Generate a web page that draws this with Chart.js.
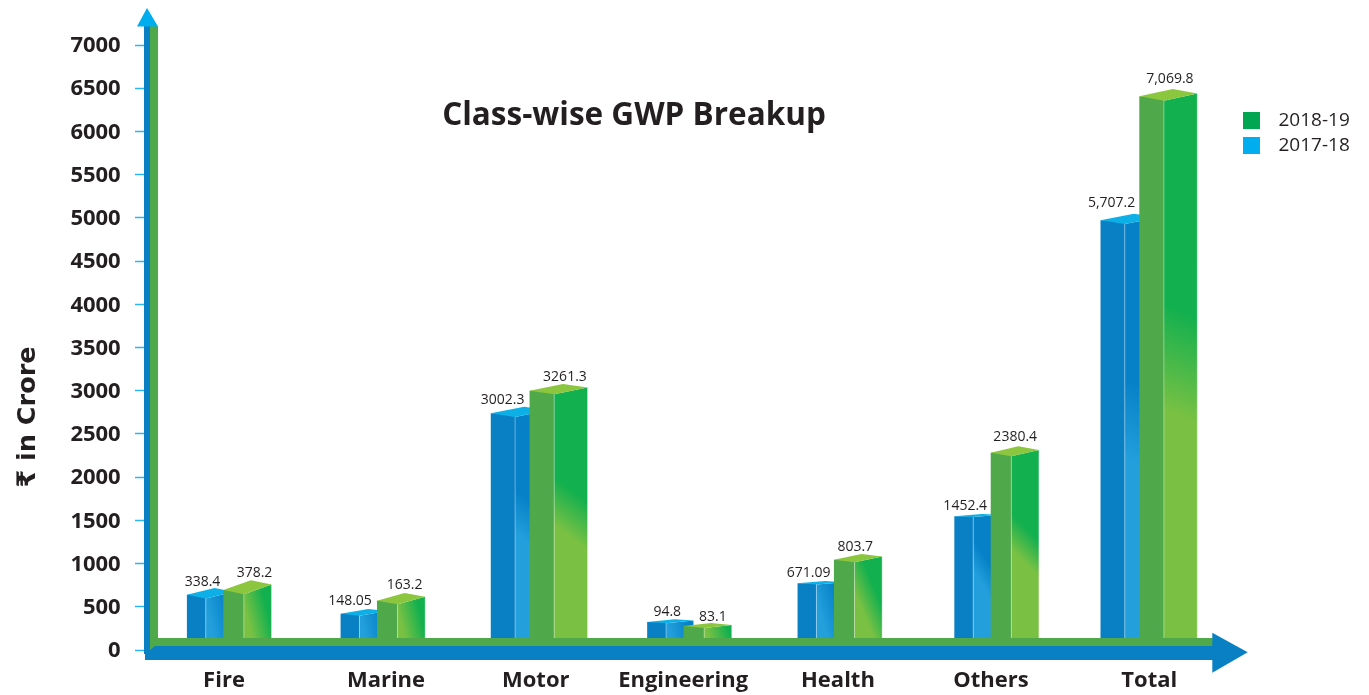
<!DOCTYPE html>
<html>
<head>
<meta charset="utf-8">
<title>Class-wise GWP Breakup</title>
<style>html,body{margin:0;padding:0;background:#fff}canvas{display:block}</style>
<script src="https://cdn.jsdelivr.net/npm/chart.js@4/dist/chart.umd.js"></script>
</head>
<body>
<canvas id="c" width="1369" height="695"></canvas>
<script>
// ---- data ----
const categories = ['Fire', 'Marine', 'Motor', 'Engineering', 'Health', 'Others', 'Total'];
const seriesNames = ['2018-19', '2017-18'];
// heights of the bars as drawn against the printed axis
const heights2018 = [694, 570, 3000, 278, 1045, 2283, 6406];
const heights2017 = [640, 420, 2739, 324, 772, 1547, 4972];
// figures printed above the bars
const printed2018 = ['378.2', '163.2', '3261.3', '83.1', '803.7', '2380.4', '7,069.8'];
const printed2017 = ['338.4', '148.05', '3002.3', '94.8', '671.09', '1452.4', '5,707.2'];
const chartTitle = 'Class-wise GWP Breakup';
const yAxisTitle = '₹ in Crore';

// ---- layout and style ----
const TEXT = '#231f20', FONT = '"Open Sans", sans-serif';
const AXIS_BLUE = '#0a80c4', AXIS_GREEN = '#4fa84a', ARROW_CYAN = '#00aeef';
const look = {
  blue:  {front: '#0a80c4', top: '#0db0e6', light: '#23a0dc', dark: '#0681c8'},
  green: {front: '#4fa84a', top: '#8cc63f', light: '#7ac143', dark: '#12b04f'}
};
const legendColors = ['#00a651', '#00aeef'];
// cluster profile, px from category centre: blue left, blue edge, green left, green edge, green right
const narrow = [-42.3, -23.4, -5.9, 14.7, 42.3], wide = [-48.4, -24.1, -9.6, 15, 48.4];
const profiles = [narrow, narrow, wide, narrow, narrow, narrow, wide];
const barNudge = [0.2, 0.5, 3.4, 0.3, -2.7, 0.7, -0.4];
const labelNudge = [-5, 3.6, 0, -6, -4.6, -5, 0];
// top-face perspective: [front edge drop, back corner rise]
const topBlue = [[3.7, 6.7], [2, 4.7], [3.7, 6.6], [1.3, 2.7], [1.2, 2.3], [0.7, 2.3], [3.7, 6.6]];
const topGreen = [[4.3, 9.7], [3.6, 7.7], [3.6, 6.7], [2, 3], [2.6, 5.7], [3.6, 6.4], [4.4, 7.3]];
// printed figure placement: [centre x from category centre, baseline from bar top]
const tagBlue = [[-26.7, -9], [-32.9, -8.4], [-36.5, -9.3], [-22.2, -6], [-31.2, -6], [-31.4, -6.3], [-37.3, -13.3]];
const tagGreen = [[25.3, -13], [21.8, -11.7], [25.8, -9.7], [23.5, -5.3], [15.4, -8.7], [18.6, -11.7], [21, -13.3]];

class NudgedCategory extends Chart.CategoryScale {
  getPixelForValue(v) {
    const i = typeof v === 'number' ? v : this.parse(v);
    return super.getPixelForValue(i) + (barNudge[i] || 0);
  }
  getPixelForTick(i) {
    return super.getPixelForValue(this.ticks[i].value) + labelNudge[i];
  }
}
NudgedCategory.id = 'nudgedCategory';
NudgedCategory.defaults = Chart.CategoryScale.defaults;
Chart.register(NudgedCategory);

const isGreen = idx => idx === 0;

function faces(chart, dsIndex, i) {
  const c = chart.scales.x.getPixelForValue(i), p = profiles[i], side = p[4] - p[3];
  return isGreen(dsIndex)
    ? {l: c + p[2], d: c + p[3], r: c + p[4]}
    : {l: c + p[0], d: c + p[1], r: c + p[1] + side};
}

function sideGradient(ctx, x0, x1, top, bottom, col) {
  const H = bottom - top, W = x1 - x0;
  const m = Math.min(4, Math.max(0.4, 180 / H));
  const s = Math.max(0.1 * H, m * W * 0.4);
  const xc = (x0 + x1) / 2, yc = bottom - 0.51 * H, k = s / (m * m + 1);
  const g = ctx.createLinearGradient(xc - m * k, yc + k, xc + m * k, yc - k);
  g.addColorStop(0, col.light);
  g.addColorStop(1, col.dark);
  return g;
}

const bars3d = {
  id: 'bars3d',
  afterDatasetsUpdate(chart) {
    chart.data.datasets.forEach((ds, d) => {
      chart.getDatasetMeta(d).data.forEach((el, i) => {
        const f = faces(chart, d, i);
        el.x = (f.l + f.d) / 2;
        el.width = f.d - f.l;
      });
    });
  },
  afterDatasetDraw(chart, args) {
    const ctx = chart.ctx, d = args.index, green = isGreen(d);
    const col = green ? look.green : look.blue, tops = green ? topGreen : topBlue;
    const bottom = chart.scales.y.getPixelForValue(0);
    args.meta.data.forEach((el, i) => {
      const f = faces(chart, d, i), y = el.y, drop = tops[i][0], rise = tops[i][1];
      const yD = y + drop, yA = y - rise, yR = yD - rise;
      ctx.save();
      // side face
      ctx.fillStyle = sideGradient(ctx, f.d, f.r, yD, 638, col);
      ctx.beginPath();
      ctx.moveTo(f.d, yD); ctx.lineTo(f.r, yR); ctx.lineTo(f.r, bottom); ctx.lineTo(f.d, bottom);
      ctx.closePath(); ctx.fill();
      // top face
      ctx.fillStyle = col.top;
      ctx.beginPath();
      ctx.moveTo(f.l, y); ctx.lineTo(f.d, yD); ctx.lineTo(f.r, yR);
      ctx.lineTo(f.l + f.r - f.d, yA);
      ctx.closePath(); ctx.fill();
      // pale edges
      ctx.strokeStyle = 'rgba(255,255,255,0.35)';
      ctx.lineWidth = 1;
      ctx.beginPath();
      ctx.moveTo(f.d, yD); ctx.lineTo(f.d, bottom);
      ctx.moveTo(f.r, yR); ctx.lineTo(f.r, bottom);
      ctx.stroke();
      ctx.restore();
    });
  }
};

const overlay = {
  id: 'overlay',
  afterLayout(chart) {
    Object.assign(chart.legend, {left: 1237, top: 105, right: 1369, bottom: 170});
  },
  afterDatasetsDraw(chart) {
    const ctx = chart.ctx;
    const poly = (color, pts) => {
      ctx.fillStyle = color;
      ctx.beginPath();
      pts.forEach((p, n) => n ? ctx.lineTo(p[0], p[1]) : ctx.moveTo(p[0], p[1]));
      ctx.closePath();
      ctx.fill();
    };
    ctx.save();
    // axis bands and arrows
    poly(AXIS_BLUE, [[144, 26], [150, 26], [150, 646], [1213, 646], [1213, 660], [145, 660], [145, 654], [144, 654]]);
    poly(AXIS_GREEN, [[150, 26], [158, 26], [158, 638], [1213, 638], [1213, 646], [155, 646], [150, 650]]);
    poly(ARROW_CYAN, [[147, 8], [158, 26.5], [137, 26.5]]);
    poly(AXIS_BLUE, [[1212.3, 632.7], [1247.7, 652.3], [1212.3, 672.7]]);
    // printed figures over the bars
    ctx.fillStyle = TEXT;
    ctx.textAlign = 'center';
    ctx.textBaseline = 'alphabetic';
    ctx.font = '14px ' + FONT;
    [[1, printed2017, tagBlue], [0, printed2018, tagGreen]].forEach(([d, texts, tags]) => {
      chart.getDatasetMeta(d).data.forEach((el, i) => {
        const c = chart.scales.x.getPixelForValue(i);
        ctx.fillText(texts[i], c + tags[i][0], el.y + tags[i][1]);
      });
    });
    // chart title
    ctx.font = 'bold 31.5px ' + FONT;
    ctx.fillText(chartTitle, 634, 124.5);
    // y axis title
    ctx.translate(35, 417);
    ctx.rotate(-Math.PI / 2);
    ctx.font = 'bold 25.5px "DejaVu Sans", sans-serif';
    ctx.fillText(yAxisTitle, 0, 0);
    ctx.restore();
  }
};

function swatch(color) {
  const cv = document.createElement('canvas');
  cv.width = 26; cv.height = 17;
  const x = cv.getContext('2d');
  x.fillStyle = color;
  x.fillRect(0, 0, 17, 17);
  return cv;
}

new Chart(document.getElementById('c'), {
  type: 'bar',
  data: {
    labels: categories,
    datasets: [
      {label: seriesNames[0], data: heights2018, backgroundColor: look.green.front, borderWidth: 0},
      {label: seriesNames[1], data: heights2017, backgroundColor: look.blue.front, borderWidth: 0}
    ]
  },
  options: {
    responsive: false,
    animation: false,
    events: [],
    layout: {padding: {top: 45, right: 143, left: 0, bottom: 0}},
    scales: {
      x: {
        type: 'nudgedCategory',
        offset: true,
        afterFit(s) { s.height = 45; },
        grid: {display: false, offset: true},
        border: {display: false},
        ticks: {color: TEXT, padding: 10, autoSkip: false, maxRotation: 0, font: {family: FONT, weight: 'bold', size: 22}}
      },
      y: {
        min: 0, max: 7000,
        afterFit(s) { s.width = 152.3; },
        border: {display: false},
        grid: {drawOnChartArea: false, drawTicks: true, tickLength: 17.3, tickColor: '#29b6f0', tickWidth: 1.5},
        ticks: {stepSize: 500, color: TEXT, padding: 14.3, labelOffset: 1, callback: v => String(v), font: {family: FONT, weight: 'bold', size: 22}}
      }
    },
    plugins: {
      title: {display: false},
      tooltip: {enabled: false},
      legend: {
        position: 'chartArea',
        align: 'start',
        labels: {
          usePointStyle: true,
          pointStyleWidth: 26,
          boxHeight: 17,
          padding: 6,
          color: TEXT,
          font: {family: FONT, size: 19},
          generateLabels: () => seriesNames.map((t, d) => ({
            text: t, datasetIndex: d, fontColor: TEXT, hidden: false, lineWidth: 0,
            fillStyle: legendColors[d], strokeStyle: legendColors[d], pointStyle: swatch(legendColors[d])
          }))
        }
      }
    }
  },
  plugins: [bars3d, overlay]
});
</script>
</body>
</html>
